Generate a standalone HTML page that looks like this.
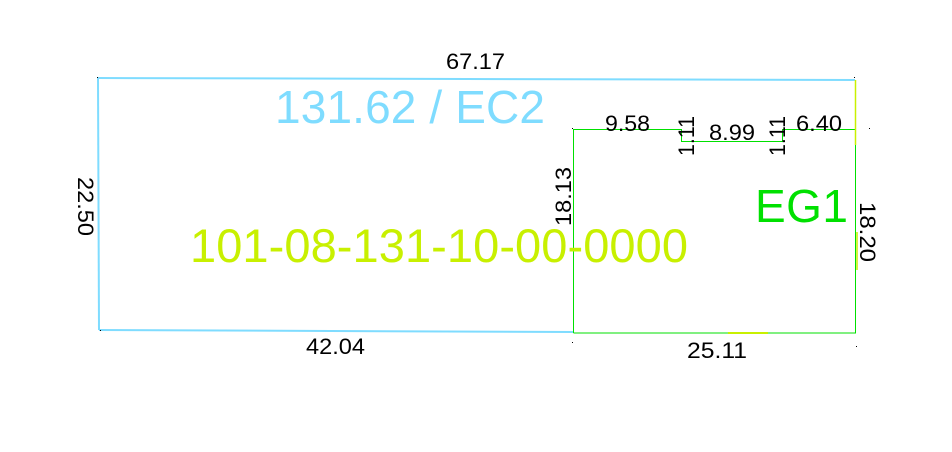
<!DOCTYPE html>
<html><head><meta charset="utf-8"><style>
html,body{margin:0;padding:0;background:#fff;width:952px;height:452px;overflow:hidden}
svg{display:block;font-family:"Liberation Sans",Arial,sans-serif}
</style></head><body>
<svg width="952" height="452" viewBox="0 0 952 452">
<g fill="none" stroke="#7fdcff" stroke-width="2">
<polyline points="98,78 855,80"/>
<polyline points="98,78 99,330"/>
<polyline points="99,330 573,332"/>
</g>
<g fill="none" stroke="#00e000" stroke-width="1">
<polyline points="573.5,333 573.5,129.5 681.5,129.5 681.5,141.5 782.5,141.5 782.5,129.5 855.5,129.5 855.5,333 573.5,333"/>
</g>
<line x1="855.5" y1="80" x2="855.5" y2="145" stroke="#c8f000" stroke-width="1.5"/>
<line x1="857" y1="232" x2="857" y2="270" stroke="#c8f000" stroke-width="1.5"/>
<line x1="728" y1="333" x2="768" y2="333" stroke="#c8f000" stroke-width="2"/>
<g fill="#000">
<rect x="97" y="77" width="1" height="1"/><rect x="854" y="77" width="1" height="1"/><rect x="100" y="330" width="1" height="1"/>
<rect x="572" y="128" width="1" height="1"/><rect x="869" y="128" width="1" height="1"/><rect x="572" y="342" width="1" height="1"/><rect x="856" y="346" width="1" height="1"/>
</g>
<g font-size="22">
<text x="446" y="69" textLength="59" lengthAdjust="spacingAndGlyphs">67.17</text>
<text x="605" y="131" textLength="45" lengthAdjust="spacingAndGlyphs">9.58</text>
<text x="709" y="140" textLength="46" lengthAdjust="spacingAndGlyphs">8.99</text>
<text x="796" y="131" textLength="46" lengthAdjust="spacingAndGlyphs">6.40</text>
<text x="306" y="354" textLength="59" lengthAdjust="spacingAndGlyphs">42.04</text>
<text x="687" y="358" textLength="60" lengthAdjust="spacingAndGlyphs">25.11</text>
<text transform="translate(78,177) rotate(90)" textLength="59" lengthAdjust="spacingAndGlyphs">22.50</text>
<text transform="translate(571,226) rotate(-90)" textLength="59" lengthAdjust="spacingAndGlyphs">18.13</text>
<text transform="translate(860,202) rotate(90)" textLength="60" lengthAdjust="spacingAndGlyphs">18.20</text>
<text transform="translate(694,156) rotate(-90)" textLength="40" lengthAdjust="spacingAndGlyphs">1.11</text>
<text transform="translate(785,156) rotate(-90)" textLength="40" lengthAdjust="spacingAndGlyphs">1.11</text>
</g>
<text x="275" y="123" font-size="46" fill="#7fdcff" textLength="270">131.62 / EC2</text>
<text x="190" y="262" font-size="47" fill="#c8f000" textLength="498">101-08-131-10-00-0000</text>
<text x="755" y="222" font-size="46" fill="#00e000" textLength="93">EG1</text>
</svg>
</body></html>
